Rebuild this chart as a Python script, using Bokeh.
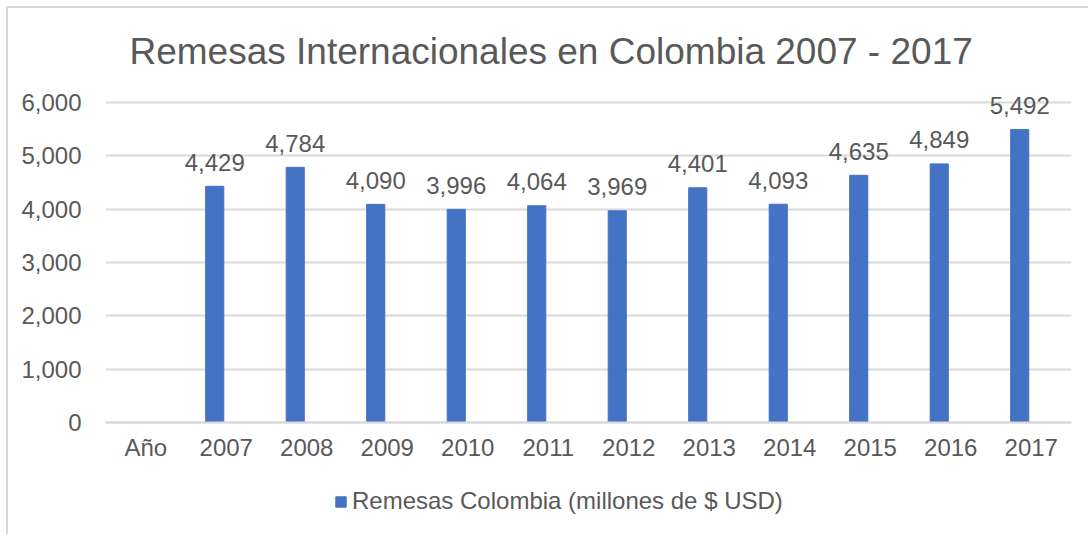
from bokeh.plotting import figure
from bokeh.models import (FactorRange, Range1d, FixedTicker, NumeralTickFormatter,
                          ColumnDataSource)
from bokeh.transform import dodge
from bokeh.embed import file_html
from bokeh.resources import INLINE
from bokeh.core.properties import value

categories = ["Año", "2007", "2008", "2009", "2010", "2011", "2012",
              "2013", "2014", "2015", "2016", "2017"]
years = ["2007", "2008", "2009", "2010", "2011", "2012",
         "2013", "2014", "2015", "2016", "2017"]
remesas = [4429, 4784, 4090, 3996, 4064, 3969, 4401, 4093, 4635, 4849, 5492]
y_ticks = [0, 1000, 2000, 3000, 4000, 5000, 6000]

FONT = "Liberation Sans"
TXT = "#595959"
GRID = "#d9d9d9"
BLUE = "#4472C4"

p = figure(frame_width=966, frame_height=440,
           x_range=FactorRange(*categories, range_padding=0),
           y_range=Range1d(-2100, 6150), output_backend="svg",
           toolbar_location=None,
           min_border_left=97, min_border_right=17, min_border_top=86,
           min_border_bottom=0,
           title="Remesas Internacionales en Colombia 2007 - 2017")
p.outline_line_color = None
p.background_fill_color = "white"
p.border_fill_color = "white"
p.styles = {"border-left": "2px solid #d9d9d9", "border-top": "2px solid #d9d9d9",
            "margin": "6px 0 0 6px"}

p.title.align = "left"
p.title.vertical_align = "top"
p.title.offset = 24
p.title.standoff = 42
p.title.text_font = FONT
p.title.text_font_size = "37px"
p.title.text_font_style = "normal"
p.title.text_color = TXT

src = ColumnDataSource(dict(x=years, y=remesas, lbl=[f"{v:,}" for v in remesas]))
p.vbar(x=dodge("x", -0.143, range=p.x_range), top="y", width=0.225, source=src,
       color=BLUE, legend_label="Remesas Colombia (millones de $ USD)")
p.text(x=dodge("x", -0.143, range=p.x_range), y="y", text="lbl", source=src,
       text_align="center", text_baseline="alphabetic", y_offset=-24,
       text_font=value(FONT), text_font_size="24px", text_color=TXT)

p.yaxis.ticker = FixedTicker(ticks=y_ticks)
p.yaxis.formatter = NumeralTickFormatter(format="0,0")
p.yaxis.axis_line_color = None
p.yaxis.major_tick_line_color = None
p.yaxis.minor_tick_line_color = None
p.yaxis.major_label_standoff = 18
p.yaxis.major_label_text_font = FONT
p.yaxis.major_label_text_font_size = "24px"
p.yaxis.major_label_text_color = TXT

p.xaxis.fixed_location = 0
p.xaxis.axis_line_color = GRID
p.xaxis.axis_line_width = 2
p.xaxis.major_tick_line_color = None
p.xaxis.minor_tick_line_color = None
p.xaxis.major_label_standoff = 5
p.xaxis.major_label_text_font = FONT
p.xaxis.major_label_text_font_size = "24px"
p.xaxis.major_label_text_color = TXT

p.xgrid.grid_line_color = None
p.ygrid.grid_line_color = GRID
p.ygrid.grid_line_width = 2
p.ygrid.ticker = FixedTicker(ticks=y_ticks)

leg = p.legend[0]
leg.location = (229, 19)
leg.orientation = "horizontal"
leg.glyph_width = 13
leg.glyph_height = 13
leg.label_standoff = 5
leg.label_text_font = FONT
leg.label_text_font_size = "24px"
leg.label_text_color = TXT
leg.border_line_color = None
leg.background_fill_alpha = 0
leg.margin = 0
leg.padding = 4

open("out.html", "w").write(file_html(p, INLINE))
